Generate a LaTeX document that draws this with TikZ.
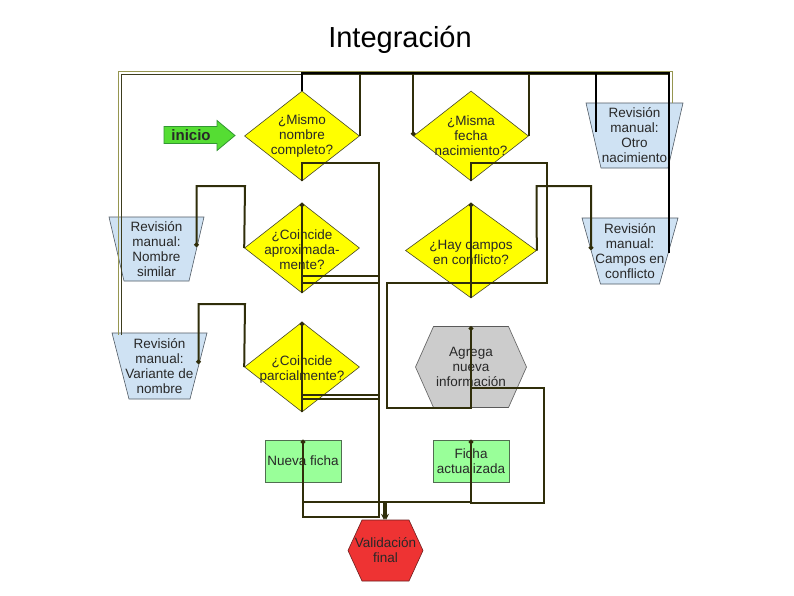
\documentclass[tikz,border=0pt]{standalone}
\usepackage{fontspec}
\setmainfont{Liberation Sans}
\usetikzlibrary{shapes.geometric,arrows.meta,calc}
\definecolor{connc}{RGB}{48,46,10}
\definecolor{decy}{RGB}{255,255,0}
\definecolor{decb}{RGB}{70,70,40}
\definecolor{hexg}{RGB}{204,204,204}
\definecolor{hexb}{RGB}{90,90,90}
\definecolor{boxg}{RGB}{153,255,153}
\definecolor{boxb}{RGB}{80,110,80}
\definecolor{valr}{RGB}{238,51,51}
\definecolor{valb}{RGB}{110,30,30}
\definecolor{trapf}{RGB}{207,226,243}
\definecolor{trapb}{RGB}{80,90,100}
\definecolor{inig}{RGB}{85,221,51}
\definecolor{inib}{RGB}{50,150,50}
\definecolor{txtc}{RGB}{40,40,40}
\definecolor{framel}{RGB}{150,150,80}
\definecolor{framed}{RGB}{60,60,30}
\tikzset{
  conn/.style={draw=connc, line width=2pt, line join=miter},
  dotend/.style={-{Circle[length=4.5pt]}},
  blk/.style={draw=black, line width=2.6pt},
  dec/.style={diamond, draw=decb, fill=decy, inner sep=0pt, line width=0.6pt},
  txt/.style={font=\fontsize{13.5}{15}\selectfont, text=txtc, align=center, inner sep=0pt},
  trapst/.style={draw=trapb, fill=trapf, line width=0.6pt},
  hexst/.style={draw=hexb, fill=hexg, line width=0.6pt},
  valst/.style={draw=valb, fill=valr, line width=0.6pt},
  boxst/.style={rectangle, draw=boxb, fill=boxg, line width=0.6pt, inner sep=0pt},
}
\newcommand\mytrap[5]{% center, topw, botw, h
  \draw[trapst] ($(#1)+(-#2/2,-#4/2)$) -- ($(#1)+(#2/2,-#4/2)$) -- ($(#1)+(#3/2,#4/2)$) -- ($(#1)+(-#3/2,#4/2)$) -- cycle;
  \node[txt, minimum width=#2pt, minimum height=#4pt] (#5) at (#1) {};}
\newcommand\myhex[5]{% center, w, h, inset, style
  \draw[#5] ($(#1)+(-#2/2,0)$) -- ($(#1)+(-#2/2+#4,-#3/2)$) -- ($(#1)+(#2/2-#4,-#3/2)$) -- ($(#1)+(#2/2,0)$) -- ($(#1)+(#2/2-#4,#3/2)$) -- ($(#1)+(-#2/2+#4,#3/2)$) -- cycle;}
\begin{document}
\begin{tikzpicture}[x=1pt,y=-1pt]
\useasboundingbox (0,0) rectangle (794,595);
\fill[white] (0,0) rectangle (794,595);

% title
\node[font=\fontsize{29}{32}\selectfont, anchor=base, text=black, inner sep=0pt] (title) at (400,47) {Integración};

% inicio arrow
\draw[fill=inig, draw=inib, line width=0.8pt] (164,126.5) -- (217,126.5) -- (217,120.5) -- (235,135.5) -- (217,150.5) -- (217,143.5) -- (164,143.5) -- cycle;
\node[font=\bfseries\fontsize{15}{16}\selectfont, text=txtc, inner sep=0pt] (inicio) at (191,135) {inicio};

% diamonds
\node[dec, minimum width=115pt, minimum height=90pt] (d1) at (302,136) {};
\node[dec, minimum width=115pt, minimum height=90pt] (d2) at (471,136) {};
\node[dec, minimum width=115pt, minimum height=90pt] (d3) at (302,248) {};
\node[dec, minimum width=131pt, minimum height=95pt] (d4) at (471,250.5) {};
\node[dec, minimum width=115pt, minimum height=90pt] (d5) at (302,367) {};
\node[txt] (t1) at (302,136) {¿Mismo\\nombre\\completo?};
\node[txt] (t2) at (471,136) {¿Misma\\fecha\\nacimiento?};
\node[txt] (t3) at (302,250) {¿Coincide\\aproximada-\\mente?};
\node[txt] (t4) at (471,252) {¿Hay campos\\en conflicto?};
\node[txt] (t5) at (302,369) {¿Coincide\\parcialmente?};

% trapezoids
\coordinate (cnom) at (156.5,249);
\coordinate (cvar) at (159.5,366);
\coordinate (cotr) at (634.5,135.5);
\coordinate (ccam) at (630,251);
\mytrap{cnom}{95}{65}{64}{nombre}
\mytrap{cvar}{95}{61}{66}{variante}
\mytrap{cotr}{97}{67}{65}{otro}
\mytrap{ccam}{96}{59}{66}{campos}
\node[txt] at (cnom) {Revisión\\manual:\\Nombre\\similar};
\node[txt] at (cvar) {Revisión\\manual:\\Variante de\\nombre};
\node[txt] at (cotr) {Revisión\\manual:\\Otro\\nacimiento};
\node[txt] at (ccam) {Revisión\\manual:\\Campos en\\conflicto};

% hexagons
\coordinate (chex) at (471,367);
\myhex{chex}{111}{81}{18}{hexst}
\node[txt, minimum width=111pt, minimum height=81pt] (hexn) at (chex) {Agrega\\nueva\\información};
\coordinate (cval) at (385.5,550.5);
\myhex{cval}{75}{61}{14}{valst}
\node[txt, minimum width=75pt, minimum height=61pt] (valn) at (cval) {Validación\\final};

% green boxes
\node[boxst, minimum width=76pt, minimum height=42pt] (nueva) at (303,461) {};
\node[boxst, minimum width=76pt, minimum height=42pt] (ficha) at (471,461) {};
\node[txt] at (nueva) {Nueva ficha};
\node[txt] at (ficha) {Ficha\\actualizada};

% free ends inside shapes
\coordinate (campin) at (669,253);
\coordinate (otroin) at (596,132);
\coordinate (otroedge) at (672,103);
\coordinate (fl1) at (118,335);
\coordinate (fl2) at (121,335);
\coordinate (nomin) at (196.5,247);
\coordinate (varin) at (198.5,364);
\coordinate (camin) at (591,250);
\coordinate (topy) at (0,73);
\coordinate (topy2) at (0,71.5);
\coordinate (topy3) at (0,74.5);

% thin frame connectors
\draw[draw=framel, line width=1pt] (otroedge) -- (otroedge |- topy2) -- (fl1 |- topy2) -- (fl1);
\draw[draw=framed, line width=1pt] (fl2) -- (fl2 |- topy3) -- (campin |- topy3);

% olive connectors
\draw[conn, dotend] (d1.east) -- (d1.east |- topy) -| (d2.west);
\draw[conn] (d2.east) -- (d2.east |- topy);
\draw[conn, dotend] (d1.south) -- (302,163) -- (379,163) -- (379,283) -- (302,283) -- (d3.north);
\draw[conn, dotend] (d3.south) -- (302,276) -- (379,276) -- (379,399) -- (302,399) -- (d5.north);
\draw[conn, dotend] (d5.south) -- (302,395) -- (379,395) -- (379,517) -- (303,517) -- (nueva.north);
\draw[conn, dotend] (d3.west) -- (245,186) -- (196.5,186) -- (nomin);
\draw[conn, dotend] (d5.west) -- (245,304) -- (198.5,304) -- (varin);
\draw[conn, dotend] (d2.south) -- (471,163) -- (547,163) -- (547,283) -- (471,283) -- (d4.north);
\draw[conn, dotend] (d4.south) -- (471,283) -- (387,283) -- (387,408) -- (471,408) -- (hexn.north);
\draw[conn, dotend] (hexn.south) -- (471,388) -- (544,388) -- (544,503) -- (471,503) -- (ficha.north);
\draw[conn, dotend] (d4.east) -- (536.5,186) -- (591,186) -- (camin);
\draw[conn, -{Stealth[length=6pt,width=6pt]}] (nueva.south) -- (303,502) -- (384,502) -- ($(valn.north)+(-1.5,0)$);
\draw[conn, -{Stealth[length=6pt,width=6pt]}] (ficha.south) -- (471,502) -- (386,502) -- ($(valn.north)+(0.5,0)$);

% black connectors
\draw[blk] (campin) -- (campin |- topy) -| (d1.north);
\draw[blk] (otroin) -- (otroin |- topy);
\end{tikzpicture}
\end{document}
